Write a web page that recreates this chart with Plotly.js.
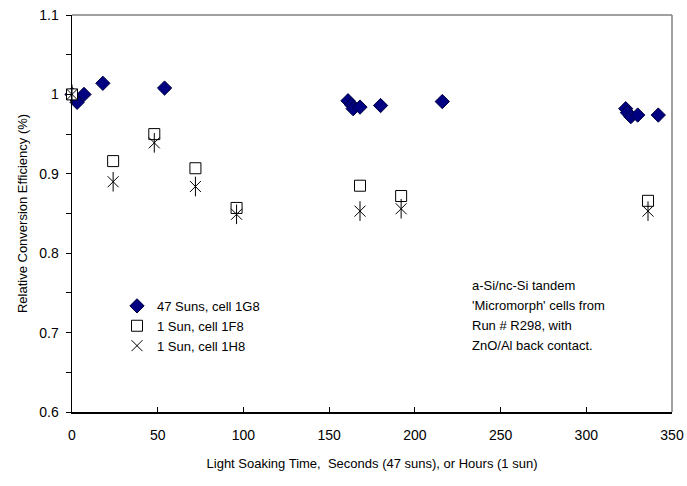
<!DOCTYPE html>
<html><head><meta charset="utf-8">
<script src="https://cdn.plot.ly/plotly-3.0.1.min.js"></script>
<style>html,body{margin:0;padding:0;background:#fff}#chart{width:687px;height:486px}</style>
</head><body><div id="chart"></div>
<script>
// 47 Suns, cell 1G8 (x in seconds)
const x1G8 = [0, 2, 3, 7, 18, 54, 161, 163, 164, 168, 180, 216, 323, 324, 326, 330, 342];
const y1G8 = [1.0, 0.995, 0.99, 1.0, 1.014, 1.008, 0.992, 0.987, 0.982, 0.984, 0.986, 0.991, 0.982, 0.977, 0.972, 0.974, 0.974];
// 1 Sun, cell 1F8 (x in hours)
const x1F8 = [0, 24, 48, 72, 96, 168, 192, 336];
const y1F8 = [1.0, 0.916, 0.950, 0.907, 0.857, 0.885, 0.872, 0.866];
// 1 Sun, cell 1H8 (x in hours)
const x1H8 = [0, 24, 48, 72, 96, 168, 192, 336];
const y1H8 = [1.0, 0.890, 0.939, 0.884, 0.849, 0.853, 0.856, 0.853];

const xTicks = [0, 50, 100, 150, 200, 250, 300, 350];
const yTicks = [0.6, 0.7, 0.8, 0.9, 1.0, 1.1];
const yTickText = ['0.6', '0.7', '0.8', '0.9', '1', '1.1'];
const noteLines = ["a-Si/nc-Si tandem", "'Micromorph' cells from", "Run # R298, with", "ZnO/Al back contact."];

const font = "Liberation Sans, Arial, sans-serif";

const traces = [
  {x: x1G8, y: y1G8, type: 'scatter', mode: 'markers', name: '47 Suns, cell 1G8',
   marker: {symbol: 'diamond', size: 11, color: '#000080', line: {color: '#000040', width: 1}}, cliponaxis: false},
  {x: x1F8, y: y1F8, type: 'scatter', mode: 'markers', name: '1 Sun, cell 1F8',
   marker: {symbol: 'square', size: 11, color: '#ffffff', line: {color: '#000000', width: 1}}, cliponaxis: false},
  {x: x1H8, y: y1H8, type: 'scatter', mode: 'markers', name: '1 Sun, cell 1H8',
   marker: {symbol: 'x-thin-open', size: 11, color: '#000000', line: {color: '#000000', width: 1}}, cliponaxis: false},
  {x: x1H8, y: y1H8, type: 'scatter', mode: 'markers', name: '1 Sun, cell 1H8', showlegend: false,
   marker: {symbol: 'line-ns-open', size: 14, color: '#000000', line: {color: '#000000', width: 1}}, cliponaxis: false}
];

const annotations = noteLines.map((t, i) => ({
  xref: 'paper', yref: 'paper', x: 0.663, y: 0.318 - i * 0.0505, xanchor: 'left', yanchor: 'middle',
  showarrow: false, align: 'left', font: {family: font, size: 13}, text: t
}));

const layout = {
  width: 687, height: 486,
  margin: {l: 72, r: 15, t: 15, b: 74},
  paper_bgcolor: '#fff', plot_bgcolor: '#fff',
  font: {family: font, size: 13, color: '#000'},
  showlegend: true,
  legend: {x: 0.075, y: 0.305, xanchor: 'left', yanchor: 'top', bgcolor: 'rgba(0,0,0,0)',
           font: {family: font, size: 13}, tracegroupgap: 0, itemwidth: 30},
  xaxis: {range: [0, 350], tickvals: xTicks, ticktext: xTicks.map(String),
          showgrid: false, zeroline: false, showline: true, linecolor: '#000', linewidth: 1.5,
          ticks: 'inside', ticklen: 5, tickcolor: '#000', ticklabelstandoff: 10,
          tickfont: {family: font, size: 14}, automargin: false,
          title: {text: 'Light Soaking Time,  Seconds (47 suns), or Hours (1 sun)', font: {family: font, size: 13}, standoff: 16}},
  yaxis: {range: [0.6, 1.1], tickvals: yTicks, ticktext: yTickText,
          showgrid: false, zeroline: false, showline: true, linecolor: '#000', linewidth: 1.5,
          ticks: 'outside', ticklen: 5, tickcolor: '#000', ticklabelstandoff: 4,
          minor: {dtick: 0.05, ticks: 'outside', ticklen: 5, tickcolor: '#000'},
          tickfont: {family: font, size: 14}, automargin: false,
          title: {text: 'Relative Conversion Efficiency (%)', font: {family: font, size: 13}, standoff: 8}},
  shapes: [
    {type: 'line', xref: 'paper', yref: 'paper', x0: 0, x1: 1, y0: 1, y1: 1, line: {color: '#808080', width: 1.5}},
    {type: 'line', xref: 'paper', yref: 'paper', x0: 1, x1: 1, y0: 0, y1: 1, line: {color: '#808080', width: 1.5}}
  ],
  annotations: annotations
};

Plotly.newPlot('chart', traces, layout, {displayModeBar: false, staticPlot: true});
</script>
</body></html>
